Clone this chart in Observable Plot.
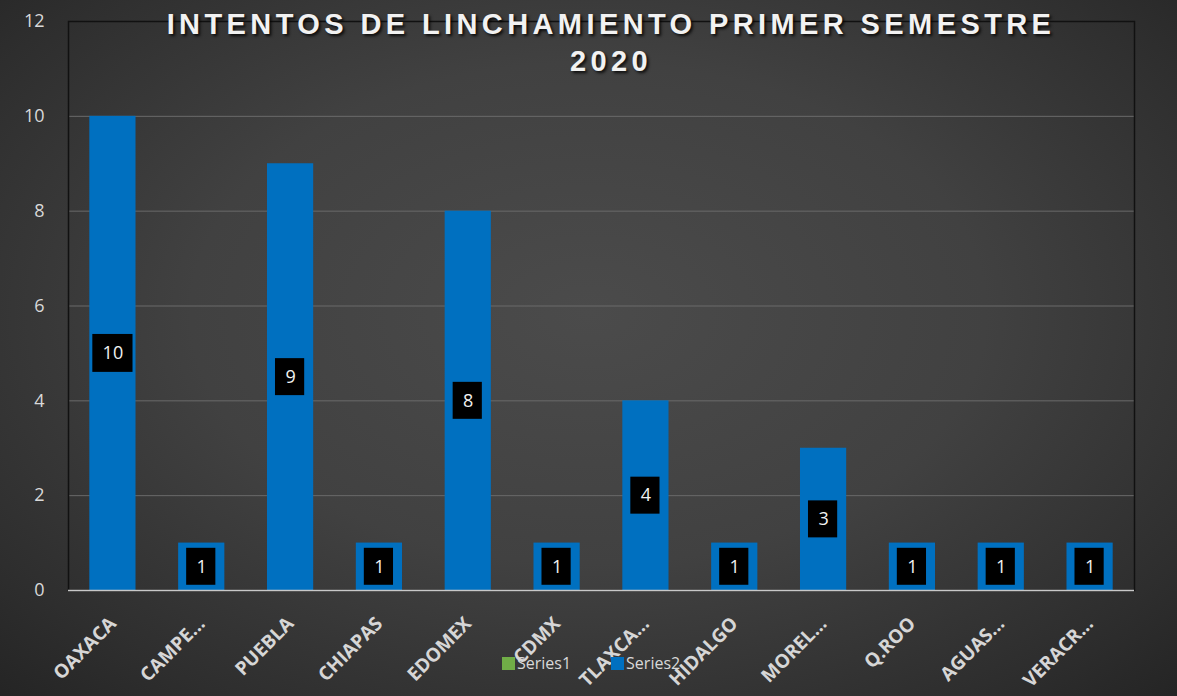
<!DOCTYPE html>
<html>
<head>
<meta charset="utf-8">
<script src="https://cdn.jsdelivr.net/npm/d3@7"></script>
<script src="https://cdn.jsdelivr.net/npm/@observablehq/plot@0.6"></script>
<style>
  html, body { margin: 0; padding: 0; background: #2a2a2a; }
  #wrap {
    position: relative; width: 1177px; height: 696px; overflow: hidden;
    background: radial-gradient(ellipse 75% 80% at 50% 45%, #4b4b4b 0%, #414141 45%, #2e2e2e 80%, #222 100%);
    font-family: "Liberation Sans", Arial, sans-serif;
  }
  #chart { position: absolute; left: 0; top: 0; }
  #title {
    position: absolute; left: 0; width: 1222px; top: 6px; text-align: center;
    color: #f2f2f2; font-weight: bold; font-size: 29px; line-height: 37px;
    letter-spacing: 4.4px; text-shadow: 2px 2px 3px rgba(0,0,0,0.8);
    font-family: "Liberation Sans", Arial, sans-serif;
  }
  #legend {
    position: absolute; top: 652px; left: 502px; color: #d9d9d9;
    font-family: "Open Sans", sans-serif; font-size: 16px; display: flex; align-items: center;
  }
  .sw { display: inline-block; width: 13px; height: 13px; margin-right: 2px; }
</style>
</head>
<body>
<div id="wrap">
  <div id="chart"></div>
  <div id="title">INTENTOS DE LINCHAMIENTO PRIMER SEMESTRE<br>2020</div>
  <div id="legend">
    <span class="sw" style="background:#70ad47"></span><span style="margin-right:40px">Series1</span>
    <span class="sw" style="background:#0070c0"></span><span>Series2</span>
  </div>
</div>
<script>
const states = ["OAXACA","CAMPE...","PUEBLA","CHIAPAS","EDOMEX","CDMX","TLAXCA...","HIDALGO","MOREL...","Q.ROO","AGUAS...","VERACR..."];
const counts = [10, 1, 9, 1, 8, 1, 4, 1, 3, 1, 1, 1];
const yTicks = [0, 2, 4, 6, 8, 10, 12];

const data = states.map((s, i) => ({state: s, value: counts[i]}));
const twoDigit = data.filter(d => String(d.value).length > 1);
const oneDigit = data.filter(d => String(d.value).length === 1);

const chart = Plot.plot({
  width: 1177,
  height: 696,
  marginLeft: 68,
  marginRight: 43,
  marginTop: 21,
  marginBottom: 106,
  style: {background: "transparent", color: "#d9d9d9", fontFamily: "'Open Sans', sans-serif"},
  x: {domain: states, paddingInner: 0.48, paddingOuter: 0.24, round: false, label: null},
  y: {domain: [0, 12], label: null},
  marks: [
    Plot.gridY(yTicks, {stroke: "#6a6a6a", strokeOpacity: 1, strokeWidth: 1}),
    Plot.frame({stroke: "#111", strokeWidth: 1.5}),
    Plot.barY(data, {x: "state", y: "value", fill: "#0070c0"}),
    Plot.ruleY([0], {stroke: "#c8c8c8", strokeWidth: 1.5}),
    Plot.barY(twoDigit, {x: "state", y1: d => d.value / 2 - 0.4, y2: d => d.value / 2 + 0.4, fill: "#000", insetLeft: 3, insetRight: 3}),
    Plot.barY(oneDigit, {x: "state", y1: d => d.value / 2 - 0.39, y2: d => d.value / 2 + 0.39, fill: "#000", insetLeft: 8, insetRight: 9}),
    Plot.text(data, {x: "state", y: d => d.value / 2, text: d => String(d.value), fill: "#f2f2f2", fontSize: 18, fontFamily: "'Open Sans', sans-serif"}),
    Plot.axisY(yTicks, {tickSize: 0, tickPadding: 24, fontSize: 18, fill: "#d9d9d9", label: null}),
    Plot.axisX({tickSize: 0, tickRotate: -45, tickPadding: 30, fontSize: 19, fontWeight: "bold", fill: "#d6d6d6", label: null, fontFamily: "'Open Sans', sans-serif"})
  ]
});
document.getElementById("chart").appendChild(chart);
</script>
</body>
</html>
